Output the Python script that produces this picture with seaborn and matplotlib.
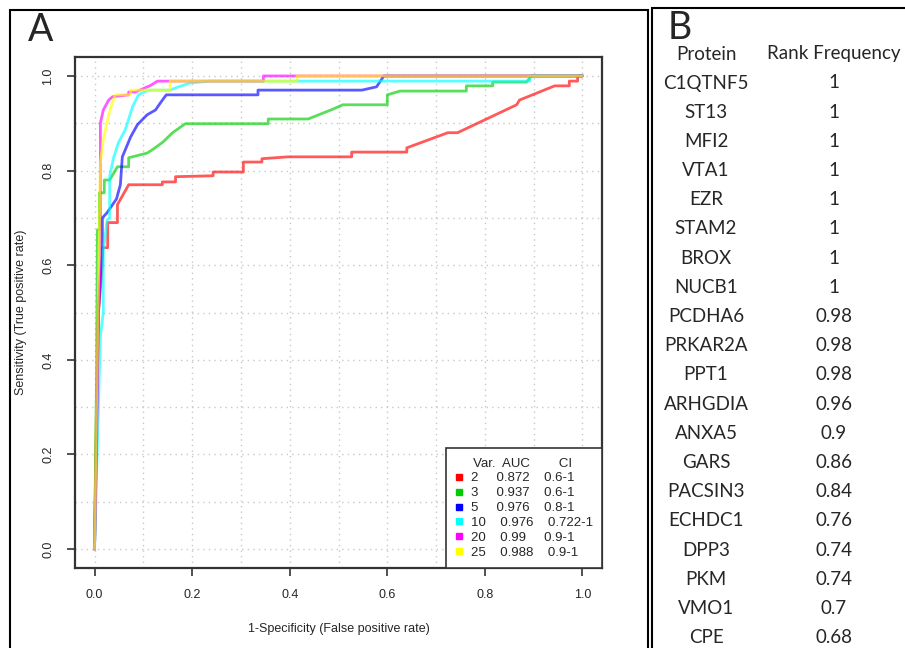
import numpy as np
import pandas as pd
import seaborn as sns
import matplotlib.pyplot as plt
from matplotlib.lines import Line2D
from matplotlib.patches import Rectangle

# ROC curves (1-specificity, sensitivity)
red_fpr = [0, 0.004, 0.008, 0.016, 0.016, 0.027, 0.027, 0.047, 0.047, 0.07, 0.139, 0.139, 0.166, 0.166,
           0.243, 0.243, 0.305, 0.305, 0.343, 0.343, 0.397, 0.527, 0.527, 0.64, 0.64, 0.724, 0.744,
           0.865, 0.871, 0.943, 0.973, 0.973, 0.99, 0.99, 1.0]
red_tpr = [0, 0.30, 0.50, 0.60, 0.637, 0.637, 0.69, 0.69, 0.728, 0.77, 0.77, 0.776, 0.776, 0.787,
           0.789, 0.797, 0.797, 0.818, 0.818, 0.825, 0.829, 0.829, 0.839, 0.839, 0.848, 0.88, 0.88,
           0.939, 0.949, 0.979, 0.979, 0.989, 0.989, 1.0, 1.0]

green_fpr = [0, 0.004, 0.006, 0.01, 0.01, 0.02, 0.02, 0.031, 0.047, 0.07, 0.07, 0.108, 0.12, 0.14,
             0.16, 0.186, 0.356, 0.356, 0.438, 0.489, 0.509, 0.6, 0.6, 0.626, 0.762, 0.762, 0.816,
             0.816, 0.885, 0.896, 1.0]
green_tpr = [0, 0.35, 0.675, 0.675, 0.753, 0.753, 0.78, 0.78, 0.808, 0.808, 0.827, 0.837, 0.845, 0.86,
             0.88, 0.899, 0.899, 0.909, 0.909, 0.93, 0.939, 0.939, 0.96, 0.968, 0.968, 0.979, 0.979,
             0.987, 0.987, 1.0, 1.0]

blue_fpr = [0, 0.004, 0.008, 0.012, 0.016, 0.016, 0.025, 0.037, 0.045, 0.053, 0.057, 0.074, 0.088,
            0.108, 0.125, 0.135, 0.147, 0.335, 0.335, 0.548, 0.578, 0.593, 1.0]
blue_tpr = [0, 0.25, 0.5, 0.58, 0.62, 0.70, 0.71, 0.728, 0.74, 0.77, 0.829, 0.871, 0.897, 0.918,
            0.928, 0.943, 0.96, 0.96, 0.97, 0.97, 0.977, 1.0, 1.0]

cyan_fpr = [0, 0.008, 0.012, 0.018, 0.018, 0.026, 0.031, 0.031, 0.039, 0.049, 0.063, 0.078, 0.09,
            0.11, 0.155, 0.172, 0.196, 0.237, 0.892, 0.892, 1.0]
cyan_tpr = [0, 0.3, 0.45, 0.5, 0.63, 0.696, 0.70, 0.787, 0.827, 0.859, 0.886, 0.935, 0.96, 0.97,
            0.97, 0.977, 0.985, 0.989, 0.989, 1.0, 1.0]

mag_fpr = [0, 0.004, 0.008, 0.012, 0.012, 0.018, 0.029, 0.037, 0.07, 0.07, 0.084, 0.115, 0.129,
           0.346, 0.346, 1.0]
mag_tpr = [0, 0.2, 0.5, 0.6, 0.9, 0.928, 0.949, 0.956, 0.96, 0.966, 0.966, 0.98, 0.989,
           0.989, 1.0, 1.0]

yel_fpr = [0, 0.004, 0.008, 0.012, 0.018, 0.029, 0.037, 0.043, 0.074, 0.074, 0.155, 0.155, 0.415,
           0.415, 1.0]
yel_tpr = [0, 0.3, 0.55, 0.816, 0.865, 0.918, 0.945, 0.96, 0.96, 0.97, 0.97, 0.989, 0.989, 1.0, 1.0]

n_vars = ["2", "3", "5", "10", "20", "25"]
auc = ["0.872", "0.937", "0.976", "0.976", "0.99", "0.988"]
ci = ["0.6-1", "0.6-1", "0.8-1", "0.722-1", "0.9-1", "0.9-1"]
colors = ["#FF0000", "#00CD00", "#0000FF", "#00FFFF", "#FF00FF", "#FFFF00"]

# Panel B table
proteins = ["C1QTNF5", "ST13", "MFI2", "VTA1", "EZR", "STAM2", "BROX", "NUCB1", "PCDHA6",
            "PRKAR2A", "PPT1", "ARHGDIA", "ANXA5", "GARS", "PACSIN3", "ECHDC1", "DPP3", "PKM",
            "VMO1", "CPE"]
rank_freq = ["1", "1", "1", "1", "1", "1", "1", "1", "0.98", "0.98", "0.98", "0.96", "0.9",
             "0.86", "0.84", "0.76", "0.74", "0.74", "0.7", "0.68"]

curves = [(red_fpr, red_tpr), (green_fpr, green_tpr), (blue_fpr, blue_tpr),
          (cyan_fpr, cyan_tpr), (mag_fpr, mag_tpr), (yel_fpr, yel_tpr)]
frames = []
for v, (f, t) in zip(n_vars, curves):
    frames.append(pd.DataFrame({"fpr": f, "tpr": t, "var": v}))
df = pd.concat(frames, ignore_index=True)

sns.set_style("white")
plt.rcParams['font.family'] = ['Liberation Sans', 'DejaVu Sans']

fig = plt.figure(figsize=(9.05, 6.48), dpi=100)
ax = fig.add_axes([75 / 905, 1 - 568 / 648, 527 / 905, 511 / 648])

# dotted grid like R's grid()
for g in np.arange(0, 1.01, 0.1):
    ax.axvline(g, color="#c8c8c8", ls=(0, (1, 3)), lw=1, zorder=0)
    ax.axhline(g, color="#c8c8c8", ls=(0, (1, 3)), lw=1, zorder=0)

sns.lineplot(data=df, x="fpr", y="tpr", hue="var", hue_order=n_vars, palette=colors,
             units="var", estimator=None, sort=False, lw=2, alpha=0.65, legend=False, ax=ax)

ax.set_xlim(-0.04, 1.04)
ax.set_ylim(-0.04, 1.04)
ticks = [0, 0.2, 0.4, 0.6, 0.8, 1.0]
ax.set_xticks(ticks)
ax.set_yticks(ticks)
ax.set_xticklabels([f"{t:.1f}" for t in ticks])
ax.set_yticklabels([f"{t:.1f}" for t in ticks], rotation=90, va="center")
ax.tick_params(direction="out", length=6, width=1.2, color="#333333", labelsize=9, pad=9,
               bottom=True, left=True)
for s in ax.spines.values():
    s.set_color("#333333")
    s.set_linewidth(1.6)
ax.set_xlabel("1-Specificity (False positive rate)", fontsize=9, labelpad=16)
ax.set_ylabel("Sensitivity (True positive rate)", fontsize=9, labelpad=11)

handles = [Line2D([], [], ls="none", marker="s", ms=5, color=c) for c in colors]
labels = []
for v, a, c in zip(n_vars, auc, ci):
    gap1 = " " * (5 if len(v) == 1 else 4)
    gap2 = " " * (4 if len(a) == 5 else 5)
    labels.append(f"{v}{gap1}{a}{gap2}{c}")
leg = ax.legend(handles, labels, title="     Var.  AUC        CI", loc="lower right",
                bbox_to_anchor=(1, 0), borderaxespad=0, fontsize=9.5, title_fontsize=9.5,
                handlelength=0.6, handletextpad=0.6, labelspacing=0.2, fancybox=False,
                borderpad=0.7, framealpha=1)
leg.get_frame().set_edgecolor("#333333")
leg.get_frame().set_linewidth(1.2)
leg._legend_box.align = "left"

# panel frames
fig.patches.append(Rectangle((10 / 905, -0.05), 638 / 905, 1 - 10 / 648 + 0.05,
                             transform=fig.transFigure, fill=False, ec="black", lw=1.5))
fig.patches.append(Rectangle((652 / 905, -0.05), 0.5, 1 - 8 / 648 + 0.05,
                             transform=fig.transFigure, fill=False, ec="black", lw=1.5))

fig.text(28 / 905, 1 - 30 / 648, "A", fontsize=27, family=["Lato", "DejaVu Sans"],
         va="center", ha="left")
fig.text(668 / 905, 1 - 28 / 648, "B", fontsize=27, family=["Lato", "DejaVu Sans"],
         va="center", ha="left")

tfont = dict(fontsize=13.5, family=["Lato", "DejaVu Sans"], va="center", ha="center")
fig.text(706 / 905, 1 - 54 / 648, "Protein", **tfont)
fig.text(834 / 905, 1 - 54 / 648, "Rank Frequency", **tfont)
for i, (p, r) in enumerate(zip(proteins, rank_freq)):
    y = 83 + i * 29.2
    fig.text(706 / 905, 1 - y / 648, p, **tfont)
    fig.text(834 / 905, 1 - y / 648, r, **tfont)

fig.savefig("out.png", dpi=100)
